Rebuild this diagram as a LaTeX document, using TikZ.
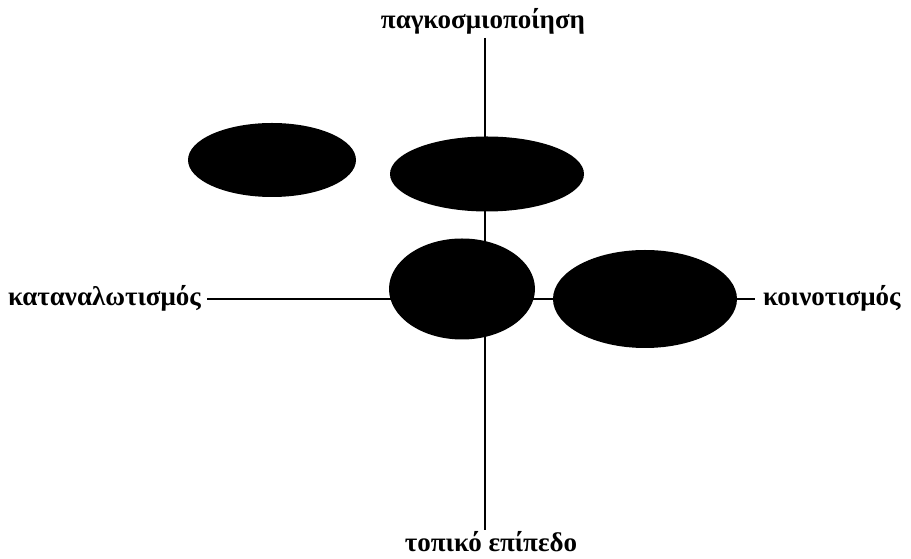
\documentclass[tikz,border=0pt]{standalone}
\usepackage{fontspec}
\setmainfont{Liberation Serif}
\usetikzlibrary{shapes.geometric}
\begin{document}
\begin{tikzpicture}[x=1pt,y=1pt,
  lbl/.style={font=\bfseries\fontsize{27}{30}\selectfont, inner sep=0pt},
  blob/.style={ellipse, fill=black, draw=none, inner sep=0pt},
  axis/.style={line width=1.2pt, black}]
\useasboundingbox (0,0) rectangle (911,559);
% labels
\node[lbl] (top) at (483,538) {παγκοσμιοποίηση};
\node[lbl] (bot) at (491,17) {τοπικό επίπεδο};
\node[lbl, anchor=east] (left) at (201,261) {καταναλωτισμός};
\node[lbl, anchor=west] (right) at (763,261) {κοινοτισμός};
% axis endpoints
\coordinate (vt) at (485,521);
\coordinate (vb) at (485,29);
\coordinate (hl) at (207,260);
\coordinate (hr) at (755,260);
\draw[axis] (vt) -- (vb);
\draw[axis] (hl) -- (hr);
% blobs
\node[blob, minimum width=168pt, minimum height=74pt] (e1) at (272,399) {};
\node[blob, minimum width=194pt, minimum height=75pt] (e2) at (487,385) {};
\node[blob, minimum width=146pt, minimum height=101pt] (e3) at (462,270) {};
\node[blob, minimum width=184pt, minimum height=98pt] (e4) at (645,260) {};
\end{tikzpicture}
\end{document}
